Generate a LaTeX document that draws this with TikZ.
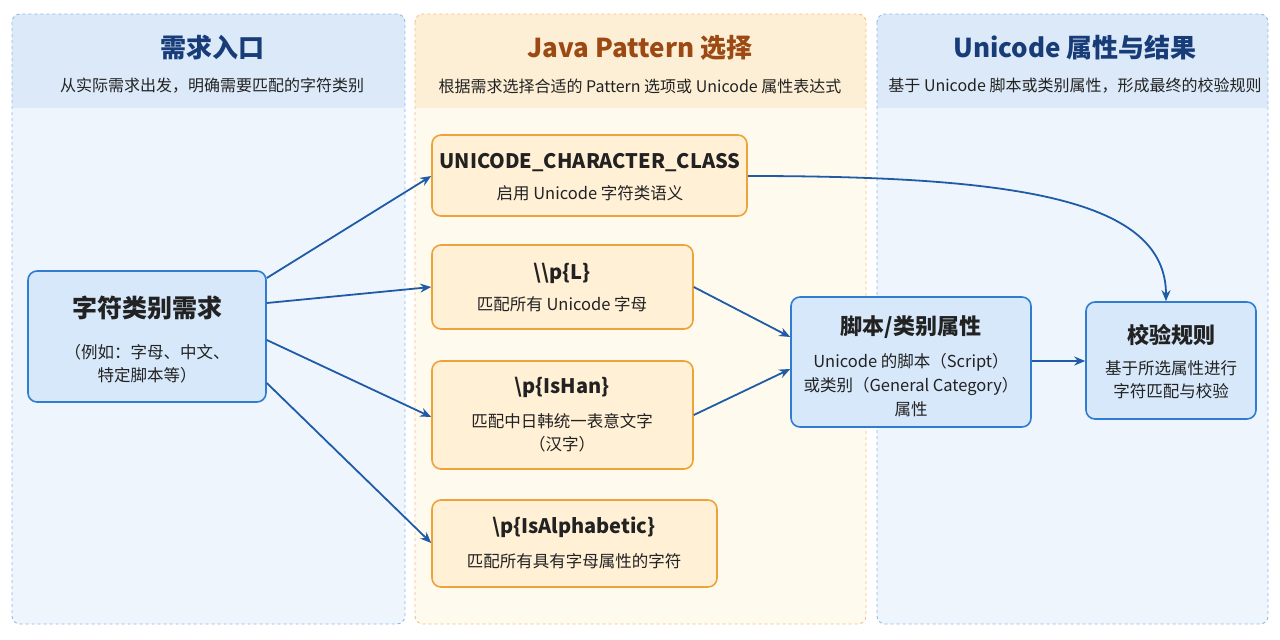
\documentclass[tikz,border=0pt]{standalone}
\usepackage{fontspec}
\setmainfont{Noto Sans CJK SC}
\usetikzlibrary{arrows.meta}
\definecolor{pbfill}{HTML}{EEF5FD}\definecolor{pbhead}{HTML}{DCE9F8}\definecolor{pbline}{HTML}{8DB9E6}
\definecolor{pofill}{HTML}{FFFAEE}\definecolor{pohead}{HTML}{FDEFD6}\definecolor{poline}{HTML}{F2C27A}
\definecolor{bfill}{HTML}{D7E8FA}\definecolor{bline}{HTML}{2F7DD0}
\definecolor{ofill}{HTML}{FFF0D6}\definecolor{oline}{HTML}{EEA23A}
\definecolor{arr}{HTML}{1F5BA6}\definecolor{tblue}{HTML}{173C78}\definecolor{tbrown}{HTML}{9C4A14}
\definecolor{txt}{HTML}{222222}
\tikzset{
 panel/.style={draw=#1,dashed,line width=0.9pt,rounded corners=8pt},
 bbox/.style={draw=bline,fill=bfill,line width=1.6pt,rounded corners=9pt},
 obox/.style={draw=oline,fill=ofill,line width=1.6pt,rounded corners=9pt},
 ttl/.style={font=\fontsize{26}{30}\selectfont\bfseries},
 sub/.style={font=\fontsize{16}{19}\selectfont,text=txt},
 hd/.style={font=\fontsize{20}{24}\selectfont\bfseries,text=txt},
 bd/.style={font=\fontsize{16.5}{23}\selectfont,text=txt,align=center},
 ar/.style={draw=arr,line width=1.8pt,-{Stealth[length=11pt,width=9pt]}}
}
\begin{document}
\begin{tikzpicture}[x=1pt,y=-1pt]
\useasboundingbox (0,0) rectangle (1280,640);
\begin{scope}
\clip[rounded corners=8pt] (12,14) rectangle (405,624);
\fill[pbfill] (12,14) rectangle (405,624);\fill[pbhead] (12,14) rectangle (405,108);
\end{scope}
\draw[panel=pbline] (12,14) rectangle (405,624);
\begin{scope}
\clip[rounded corners=8pt] (415,14) rectangle (866,624);
\fill[pofill] (415,14) rectangle (866,624);\fill[pohead] (415,14) rectangle (866,108);
\end{scope}
\draw[panel=poline] (415,14) rectangle (866,624);
\begin{scope}
\clip[rounded corners=8pt] (877,14) rectangle (1268,624);
\fill[pbfill] (877,14) rectangle (1268,624);\fill[pbhead] (877,14) rectangle (1268,108);
\end{scope}
\draw[panel=pbline] (877,14) rectangle (1268,624);
\node[ttl,text=tblue] (t1) at (212,48) {需求入口};
\node[sub] (s1) at (212,86) {从实际需求出发，明确需要匹配的字符类别};
\node[ttl,text=tbrown] (t2) at (640,48) {Java Pattern 选择};
\node[sub] (s2) at (640,86) {根据需求选择合适的 Pattern 选项或 Unicode 属性表达式};
\node[ttl,text=tblue] (t3) at (1075,48) {Unicode 属性与结果};
\node[sub] (s3) at (1075,86) {基于 Unicode 脚本或类别属性，形成最终的校验规则};
\node[bbox,minimum width=238pt,minimum height=131pt] (A) at (147,336.5) {};
\node[font=\fontsize{25}{28}\selectfont\bfseries,text=txt] (At) at (147,308) {字符类别需求};
\node[bd] (Ab) at (147,364) {（例如：字母、中文、\\特定脚本等）};
\node[obox,minimum width=315pt,minimum height=81pt] (N1) at (589.5,175.5) {};
\node[hd] (N1t) at (590,163) {UNICODE\_CHARACTER\_CLASS};
\node[bd] (N1b) at (590,193) {启用 Unicode 字符类语义};
\node[obox,minimum width=261pt,minimum height=84pt] (N2) at (562.5,287) {};
\node[hd] (N2t) at (562,273) {\textbackslash\textbackslash p\{L\}};
\node[bd] (N2b) at (562,304) {匹配所有 Unicode 字母};
\node[obox,minimum width=261pt,minimum height=108pt] (N3) at (562.5,415) {};
\node[hd] (N3t) at (562,387) {\textbackslash p\{IsHan\}};
\node[bd] (N3b) at (562,433) {匹配中日韩统一表意文字\\（汉字）};
\node[obox,minimum width=285pt,minimum height=87pt] (N4) at (574.5,543.5) {};
\node[hd] (N4t) at (574,527) {\textbackslash p\{IsAlphabetic\}};
\node[bd] (N4b) at (574,561) {匹配所有具有字母属性的字符};
\node[bbox,minimum width=240pt,minimum height=130pt] (S) at (911,362) {};
\node[font=\fontsize{22}{26}\selectfont\bfseries,text=txt] (St) at (911,327) {脚本/类别属性};
\node[bd,font=\fontsize{16.5}{24}\selectfont] (Sb) at (911,385) {Unicode 的脚本（Script）\\或类别（General Category）\\属性};
\node[bbox,minimum width=170pt,minimum height=117pt] (V) at (1171,360.5) {};
\node[font=\fontsize{22}{26}\selectfont\bfseries,text=txt] (Vt) at (1171,335) {校验规则};
\node[bd] (Vb) at (1171,380) {基于所选属性进行\\字符匹配与校验};
\draw[ar] (A.east |- 0,278) -- (N1.west |- 0,176);
\draw[ar] (A.east |- 0,303) -- (N2.west |- 0,287);
\draw[ar] (A.east |- 0,340) -- (N3.west |- 0,417);
\draw[ar] (A.east |- 0,383) -- (N4.west |- 0,543);
\draw[ar] (N2.east |- 0,287) -- (S.west |- 0,337);
\draw[ar] (N3.east |- 0,415) -- (S.west |- 0,369);
\draw[ar] (S.east |- 0,361) -- (V.west |- 0,361);
\draw[ar] (N1.east |- 0,176) .. controls (1020,176) and (1166,200) .. (V.north -| 1166,0);
\end{tikzpicture}
\end{document}
